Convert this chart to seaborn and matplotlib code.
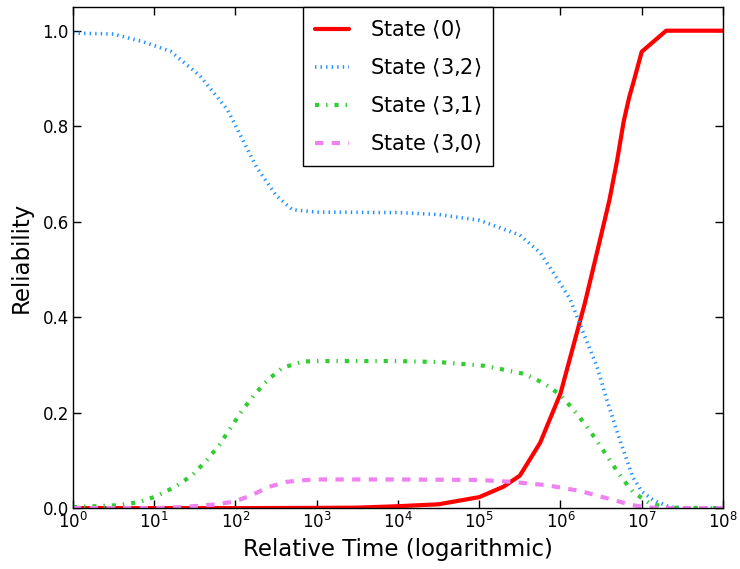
import numpy as np
import pandas as pd
import matplotlib
matplotlib.use('Agg')
import matplotlib.pyplot as plt
import seaborn as sns

# Curves (x given as log10 of relative time)
state0_exp = [0, 1, 2, 3, 3.5, 4, 4.5, 5, 5.3, 5.5, 5.75, 6, 6.301, 6.477, 6.602,
              6.699, 6.778, 6.845, 6.903, 6.954, 7, 7.301, 7.477, 8]
state0_val = [0, 0, 0, 0.0005, 0.001, 0.004, 0.008, 0.023, 0.045, 0.068, 0.137, 0.24,
              0.43, 0.555, 0.645, 0.73, 0.81, 0.86, 0.895, 0.927, 0.956, 1.0, 1.0, 1.0]

state32_exp = [0, 0.5, 0.86, 1.2, 1.56, 1.9, 2.26, 2.5, 2.7, 3, 4, 4.5, 5, 5.5, 5.75,
               6, 6.12, 6.28, 6.45, 6.57, 6.73, 6.89, 7.0, 7.14, 7.35, 7.6, 8]
state32_val = [0.995, 0.993, 0.977, 0.957, 0.906, 0.835, 0.714, 0.655, 0.625, 0.62,
               0.619, 0.615, 0.603, 0.572, 0.535, 0.47, 0.437, 0.368, 0.296, 0.227,
               0.143, 0.065, 0.035, 0.017, 0.002, 0.0, 0.0]

state31_exp = [0, 0.54, 0.8, 1.03, 1.26, 1.47, 1.65, 1.8, 1.94, 2.08, 2.23, 2.4, 2.58,
               2.83, 3, 4, 4.5, 5.07, 5.56, 5.79, 6, 6.16, 6.32, 6.46, 6.6, 6.74,
               6.89, 7.09, 7.3, 8]
state31_val = [0.002, 0.006, 0.012, 0.025, 0.045, 0.069, 0.101, 0.132, 0.168, 0.204,
               0.237, 0.269, 0.294, 0.307, 0.308, 0.308, 0.306, 0.298, 0.281, 0.262,
               0.237, 0.206, 0.172, 0.138, 0.102, 0.067, 0.034, 0.011, 0.001, 0.0]

state30_exp = [0, 1, 1.32, 1.78, 1.99, 2.2, 2.4, 2.63, 2.88, 3, 4, 5, 5.4, 5.83, 6.24,
               6.65, 6.89, 7.1, 7.4, 8]
state30_val = [0, 0, 0.002, 0.008, 0.014, 0.027, 0.044, 0.055, 0.059, 0.06, 0.06,
               0.059, 0.055, 0.048, 0.036, 0.017, 0.006, 0.001, 0, 0]

labels = [r'State $\langle$0$\rangle$', r'State $\langle$3,2$\rangle$',
          r'State $\langle$3,1$\rangle$', r'State $\langle$3,0$\rangle$']

sns.set_theme(style="ticks")
plt.rcParams['font.family'] = ['DejaVu Sans']
plt.rcParams['mathtext.fontset'] = 'dejavusans'
plt.rcParams['xtick.direction'] = 'in'
plt.rcParams['ytick.direction'] = 'in'
plt.rcParams['xtick.top'] = True
plt.rcParams['ytick.right'] = True
for key in ['text.color', 'axes.labelcolor', 'xtick.color', 'ytick.color',
            'axes.edgecolor']:
    plt.rcParams[key] = 'black'
# old-style dash patterns, not scaled by line width
plt.rcParams['lines.scale_dashes'] = False
plt.rcParams['lines.dashed_pattern'] = [6, 6]
plt.rcParams['lines.dashdot_pattern'] = [3, 5, 1, 5]
plt.rcParams['lines.dotted_pattern'] = [1, 3]

fig = plt.figure(figsize=(7.4, 5.69), dpi=100)
ax = fig.add_axes([0.0986, 0.107, 0.8784, 0.881])

series = [
    (state0_exp, state0_val, 'red', '-', 3.0),
    (state32_exp, state32_val, 'dodgerblue', ':', 2.6),
    (state31_exp, state31_val, 'limegreen', '-.', 3.0),
    (state30_exp, state30_val, 'violet', '--', 3.0),
]
for (ex, val, col, ls, lw), lab in zip(series, labels):
    df = pd.DataFrame({'t': 10.0 ** np.array(ex), 'r': val})
    sns.lineplot(data=df, x='t', y='r', ax=ax, color=col, linestyle=ls,
                 linewidth=lw, label=lab)

ax.set_xscale('log')
ax.set_xlim(1, 1e8)
ax.set_ylim(0, 1.05)
ax.set_xticks([10.0 ** k for k in range(9)])
ax.minorticks_off()
ax.set_yticks([0, 0.2, 0.4, 0.6, 0.8, 1.0])
ax.set_yticklabels(['0.0', '0.2', '0.4', '0.6', '0.8', '1.0'])
ax.tick_params(labelsize=12, length=6, width=1, color='black', pad=3)
for s in ax.spines.values():
    s.set_color('black')
    s.set_linewidth(1)

ax.set_xlabel('Relative Time (logarithmic)', fontsize=16.5)
ax.set_ylabel('Reliability', fontsize=16.5, labelpad=7)

leg = ax.legend(loc='upper center', bbox_to_anchor=(0.5, 1.0), borderaxespad=0,
                fontsize=15, handlelength=1.65, handletextpad=1.0,
                labelspacing=0.75, borderpad=0.55, fancybox=False, framealpha=1,
                edgecolor='black')
leg.get_frame().set_linewidth(1)

fig.savefig('out.png', dpi=100)
